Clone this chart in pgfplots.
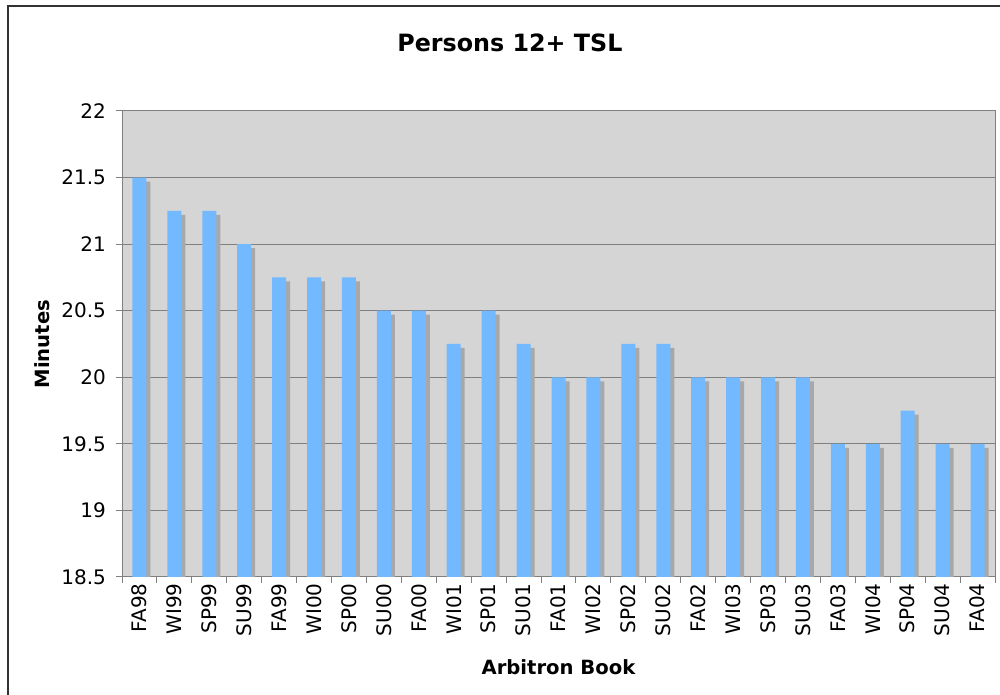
\documentclass[border=0pt]{standalone}
\usepackage{fontspec}
\setmainfont{DejaVu Sans}
\usepackage{pgfplots}
\pgfplotsset{compat=1.18}
\definecolor{barblue}{RGB}{115,185,255}
\definecolor{shadowgray}{RGB}{168,168,168}
\definecolor{plotbg}{RGB}{213,213,213}
\definecolor{gridgray}{RGB}{128,128,128}
\begin{document}
\begin{tikzpicture}
\path[use as bounding box] (0,0) rectangle (500pt,347.5pt);
\draw[line width=1pt, black!80] (4pt,0) -- (4pt,344.5pt) -- (500pt,344.5pt);
\begin{axis}[
  at={(61pt,59pt)}, anchor=south west,
  scale only axis, width=436.5pt, height=233pt,
  xmin=-0.5, xmax=24.5, ymin=18.5, ymax=22,
  ytick={18.5,19,...,22},
  yticklabels={18.5,19,19.5,20,20.5,21,21.5,22},
  xtick={0,...,24},
  xticklabels={FA98,WI99,SP99,SU99,FA99,WI00,SP00,SU00,FA00,WI01,SP01,SU01,FA01,WI02,SP02,SU02,FA02,WI03,SP03,SU03,FA03,WI04,SP04,SU04,FA04},
  minor xtick={-0.5,0.5,...,24.5},
  xtick pos=bottom, ytick pos=left,
  x tick label style={rotate=90, anchor=east, font=\fontsize{10}{12}\selectfont},
  y tick label style={font=\fontsize{10}{12}\selectfont, xshift=-1.5pt},
  /pgf/number format/assume math mode=true,
  tick align=outside,
  major tick length=3pt,
  minor tick length=3pt,
  xtick style={draw=none},
  minor x tick style={draw=gridgray, line width=0.5pt},
  ytick style={draw=gridgray, line width=0.5pt},
  ymajorgrids, grid style={gridgray, line width=0.5pt},
  axis line style={gridgray, line width=0.5pt},
  axis background/.style={fill=plotbg},
  xticklabel style={inner sep=0pt},
  xlabel={Arbitron Book},
  ylabel={Minutes},
  title={Persons 12+ TSL},
  xlabel style={at={(axis description cs:0.5,-0.1931)}, anchor=center, font=\fontsize{9.8}{12}\selectfont\bfseries},
  ylabel style={at={(axis description cs:-0.0916,0.5)}, anchor=center, rotate=0, font=\fontsize{9.8}{12}\selectfont\bfseries},
  title style={at={(axis description cs:0.4444,1.120)}, anchor=center, font=\fontsize{11.9}{14}\selectfont\bfseries},
  ybar, bar width=7pt,
]
\addplot[fill=shadowgray, draw=none, bar shift=2pt, yshift=-2pt] coordinates {
(0,21.5) (1,21.25) (2,21.25) (3,21) (4,20.75) (5,20.75) (6,20.75) (7,20.5) (8,20.5) (9,20.25) (10,20.5) (11,20.25) (12,20) (13,20) (14,20.25) (15,20.25) (16,20) (17,20) (18,20) (19,20) (20,19.5) (21,19.5) (22,19.75) (23,19.5) (24,19.5)};
\addplot[fill=barblue, draw=none, bar shift=0pt] coordinates {
(0,21.5) (1,21.25) (2,21.25) (3,21) (4,20.75) (5,20.75) (6,20.75) (7,20.5) (8,20.5) (9,20.25) (10,20.5) (11,20.25) (12,20) (13,20) (14,20.25) (15,20.25) (16,20) (17,20) (18,20) (19,20) (20,19.5) (21,19.5) (22,19.75) (23,19.5) (24,19.5)};
\end{axis}
\end{tikzpicture}
\end{document}
